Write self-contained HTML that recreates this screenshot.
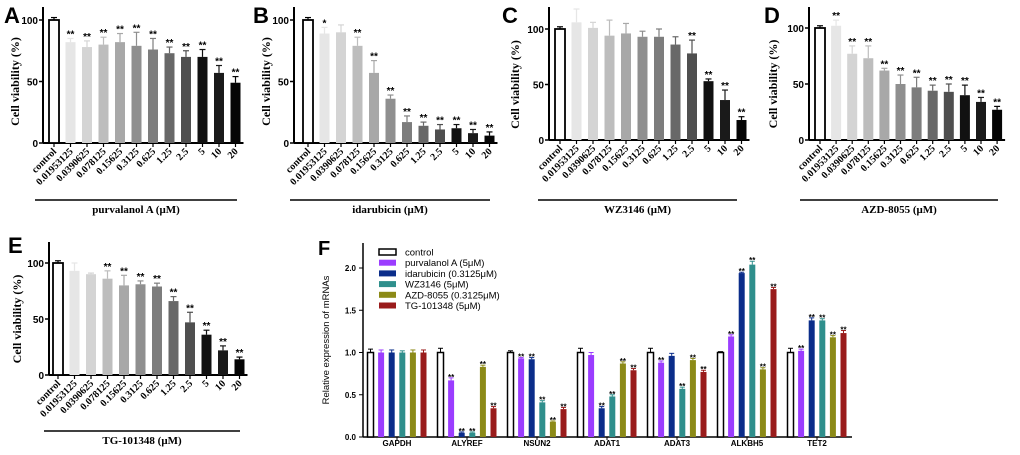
<!DOCTYPE html>
<html><head><meta charset="utf-8">
<style>
html,body{margin:0;padding:0;background:#fff;}
svg{display:block;}
</style></head>
<body>
<svg id="fig" width="1020" height="455" viewBox="0 0 1020 455" xmlns="http://www.w3.org/2000/svg"></svg>
<script>
const doses = ["control","0.01953125","0.0390625","0.078125","0.15625","0.3125","0.625","1.25","2.5","5","10","20"];
const valuesA = [100,82,78,80,82,79,76,73,70,70,57,49];
const errorsA = [2,3,5,6,7,11,9,5,5,6,6,5];
const starsA = ["","**","**","**","**","**","**","**","**","**","**","**"];
const valuesB = [100,89,90,79,57,36,17,14,11,12,8,6];
const errorsB = [2,5,6,7,10,3,5,3,4,3,3,3];
const starsB = ["","*","","**","**","**","**","**","**","**","**","**"];
const valuesC = [100,106,101,94,96,93,93,86,78,53,36,18];
const errorsC = [2,12,5,14,9,5,7,7,12,2,9,3];
const starsC = ["","","","","","","","","**","**","**","**"];
const valuesD = [100,102,77,73,62,50,47,44,43,40,34,27];
const errorsD = [2,5,7,11,2,8,9,5,7,9,4,3];
const starsD = ["","**","**","**","**","**","**","**","**","**","**","**"];
const valuesE = [100,93,90,86,80,81,79,66,47,36,22,14];
const errorsE = [2,7,1,7,9,3,3,4,9,4,4,2];
const starsE = ["","","","**","**","**","**","**","**","**","**","**"];
const yTicksViab = [0,50,100];

const genes = ["GAPDH","ALYREF","NSUN2","ADAT1","ADAT3","ALKBH5","TET2"];
const seriesNames = ["control","purvalanol A (5μM)","idarubicin (0.3125μM)","WZ3146 (5μM)","AZD-8055 (0.3125μM)","TG-101348 (5μM)"];
const controlVals = [1,1,1,1,1,1,1];
const purvVals = [1,0.67,0.93,0.97,0.88,1.19,1.02];
const idarVals = [1,0.05,0.92,0.34,0.96,1.94,1.38];
const wzVals = [1,0.05,0.41,0.48,0.57,2.04,1.38];
const azdVals = [1,0.83,0.18,0.87,0.91,0.80,1.18];
const tgVals = [1,0.34,0.33,0.79,0.77,1.75,1.23];
const controlErr = [0.04,0.05,0.02,0.05,0.05,0.01,0.05];
const purvErr = [0.03,0.03,0.01,0.03,0.02,0.02,0.02];
const idarErr = [0.03,0.01,0.02,0.02,0.03,0.01,0.03];
const wzErr = [0.02,0.01,0.02,0.02,0.02,0.04,0.02];
const azdErr = [0.03,0.02,0.01,0.02,0.02,0.02,0.02];
const tgErr = [0.03,0.02,0.02,0.02,0.02,0.02,0.03];
const fStars = [
 ["","","","","",""],
 ["","**","**","**","**","**"],
 ["","**","**","**","**","**"],
 ["","","**","**","**","**"],
 ["","**","","**","**","**"],
 ["","**","**","**","**","**"],
 ["","**","**","**","**","**"]];
const fTicks = [0,0.5,1.0,1.5,2.0];

const NS="http://www.w3.org/2000/svg";
const svg=document.getElementById('fig');
function mk(tag,attrs,parent){const e=document.createElementNS(NS,tag);for(const k in attrs)e.setAttribute(k,attrs[k]);(parent||svg).appendChild(e);return e;}
function txt(s,attrs,parent){const e=mk('text',attrs,parent);e.textContent=s;return e;}

const grays=["#ffffff","#e6e6e6","#d4d4d4","#bdbdbd","#a8a8a8","#8f8f8f","#7d7d7d","#686868","#4f4f4f","#111111","#1a1a1a","#050505"];

function viabPanel(cfg){
  const g=mk('g',{});
  
  
  const y=v=>cfg.y0-(v/100)*(cfg.y0-cfg.y100);
  const x=i=>cfg.x0+i*cfg.step;
  const L=txt(cfg.letter,{x:cfg.lx,y:cfg.ly,'font-family':'Liberation Sans, sans-serif','font-size':22,'font-weight':'bold'},g);
  
  
  const ya=mk('line',{x1:cfg.ax,x2:cfg.ax,y1:cfg.ytop,y2:cfg.y0,stroke:'#000','stroke-width':2},g);
  
  
  const xa=mk('line',{x1:cfg.ax,x2:x(11)+8,y1:cfg.y0,y2:cfg.y0,stroke:'#000','stroke-width':2},g);
  
  
  yTicksViab.forEach(t=>{
    mk('line',{x1:cfg.ax-4,x2:cfg.ax,y1:y(t),y2:y(t),stroke:'#000','stroke-width':1.5},g);
    const tl=txt(String(t),{x:cfg.ax-5,y:y(t)+4,'text-anchor':'end','font-family':'Liberation Sans, sans-serif','font-size':10,'font-weight':'bold'},g);
    
    
  });
  const yl=txt('Cell viability (%)',{transform:`translate(${cfg.ylx},${(cfg.y0+cfg.y100)/2}) rotate(-90)`,'text-anchor':'middle','font-family':'Liberation Serif, serif','font-size':12,'font-weight':'bold'},g);
  
  
  cfg.vals.forEach((v,i)=>{
    const cx=x(i),w=10;
    const b=mk('rect',{x:cx-w/2,y:y(v),width:w,height:cfg.y0-y(v),fill:grays[i],stroke:i==0?'#000':'none','stroke-width':i==0?1.8:0},g);
    
    
    const ec=i==0?'#000':grays[i];
    const et=y(v+cfg.errs[i]);
    mk('line',{x1:cx,x2:cx,y1:y(v),y2:et,stroke:ec,'stroke-width':1.2},g);
    mk('line',{x1:cx-3,x2:cx+3,y1:et,y2:et,stroke:ec,'stroke-width':1.2},g);
    if(cfg.stars[i]){
      const s=txt(cfg.stars[i],{x:cx,y:et-1,'text-anchor':'middle','font-family':'Liberation Sans, sans-serif','font-size':10,'font-weight':'bold'},g);
      
      
    }
    mk('line',{x1:cx,x2:cx,y1:cfg.y0,y2:cfg.y0+4,stroke:'#000','stroke-width':1.2},g);
    const tl=txt(doses[i],{transform:`translate(${cx+3},${cfg.y0+9}) rotate(-45)`,'text-anchor':'end','font-family':'Liberation Serif, serif','font-size':10,'font-weight':'bold'},g);
    
    
  });
  const gl=mk('line',{x1:cfg.gx1,x2:cfg.gx2,y1:cfg.gy,y2:cfg.gy,stroke:'#000','stroke-width':1.5},g);
  
  
  const t=txt(cfg.title,{x:(cfg.gx1+cfg.gx2)/2,y:cfg.gy+13,'text-anchor':'middle','font-family':'Liberation Serif, serif','font-size':11,'font-weight':'bold'},g);
  
  
}

viabPanel({letter:'A',lx:4,ly:23,ax:43,ylx:19,ytop:7,y0:143,y100:20,x0:54,step:16.5,vals:valuesA,errs:errorsA,stars:starsA,gx1:35,gx2:237,gy:200,title:'purvalanol A (μM)'});
viabPanel({letter:'B',lx:253,ly:23,ax:294,ylx:270,ytop:7,y0:143,y100:20,x0:308,step:16.5,vals:valuesB,errs:errorsB,stars:starsB,gx1:290,gx2:490,gy:200,title:'idarubicin (μM)'});
viabPanel({letter:'C',lx:502,ly:23,ax:549,ylx:519,ytop:7,y0:140,y100:29,x0:560,step:16.5,vals:valuesC,errs:errorsC,stars:starsC,gx1:538,gx2:737,gy:200,title:'WZ3146 (μM)'});
viabPanel({letter:'D',lx:764,ly:23,ax:809,ylx:777,ytop:7,y0:140,y100:28,x0:820,step:16.1,vals:valuesD,errs:errorsD,stars:starsD,gx1:800,gx2:998,gy:200,title:'AZD-8055 (μM)'});
viabPanel({letter:'E',lx:8,ly:253,ax:49,ylx:21,ytop:242,y0:375,y100:263,x0:58,step:16.5,vals:valuesE,errs:errorsE,stars:starsE,gx1:44,gx2:240,gy:431,title:'TG-101348 (μM)'});

// Panel F
(function(){
  const g=mk('g',{});
  
  
  const ax=363,y0=437,unit=84.5,gx0=397,gstep=70,bstep=10.6,bw=6;
  const y=v=>y0-v*unit;
  const series=[controlVals,purvVals,idarVals,wzVals,azdVals,tgVals];
  const errs=[controlErr,purvErr,idarErr,wzErr,azdErr,tgErr];
  const cols=['#ffffff','#9b3dff','#0b2d8a','#2f8f8c','#8c8a17','#9a1c1c'];
  const L=txt('F',{x:318,y:255,'font-family':'Liberation Sans, sans-serif','font-size':20,'font-weight':'bold'},g);
  
  
  const ya=mk('line',{x1:ax,x2:ax,y1:243,y2:y0,stroke:'#000','stroke-width':1.5},g);
  
  
  const xa=mk('line',{x1:ax,x2:852,y1:y0,y2:y0,stroke:'#000','stroke-width':1.5},g);
  
  
  fTicks.forEach(t=>{
    mk('line',{x1:ax-4,x2:ax,y1:y(t),y2:y(t),stroke:'#000','stroke-width':1},g);
    const tl=txt(t.toFixed(1),{x:ax-7,y:y(t)+3,'text-anchor':'end','font-family':'Liberation Sans, sans-serif','font-size':8,'font-weight':'bold'},g);
    
    
  });
  const yl=txt('Relative expression of mRNAs',{transform:`translate(329,340) rotate(-90)`,'text-anchor':'middle','font-family':'Liberation Sans, sans-serif','font-size':9.5},g);
  
  
  genes.forEach((gn,gi)=>{
    const gc=gx0+gi*gstep;
    mk('line',{x1:gc,x2:gc,y1:y0,y2:y0+3,stroke:'#000','stroke-width':1},g);
    const gl=txt(gn,{x:gc,y:446,'text-anchor':'middle','font-family':'Liberation Sans, sans-serif','font-size':8,'font-weight':'bold'},g);
    
    
    series.forEach((s,si)=>{
      const cx=gc+(si-2.5)*bstep,v=s[gi];
      const b=mk('rect',{x:cx-bw/2,y:y(v),width:bw,height:y0-y(v),fill:cols[si],stroke:si==0?'#000':'none','stroke-width':si==0?1.5:0},g);
      
      
      const et=y(v+errs[si][gi]),ec=si==0?'#000':cols[si];
      mk('line',{x1:cx,x2:cx,y1:y(v),y2:et,stroke:ec,'stroke-width':1},g);
      mk('line',{x1:cx-2.5,x2:cx+2.5,y1:et,y2:et,stroke:ec,'stroke-width':1},g);
      if(fStars[gi][si]){
        const st=txt(fStars[gi][si],{x:cx,y:et+2,'text-anchor':'middle','font-family':'Liberation Sans, sans-serif','font-size':8,'font-weight':'bold'},g);
        
        
      }
    });
  });
  seriesNames.forEach((n,i)=>{
    const ly=249+i*10.7;
    const r=mk('rect',{x:379,y:ly,width:17,height:6,fill:cols[i],stroke:i==0?'#000':'none','stroke-width':i==0?1.5:0},g);
    
    
    const t=txt(n,{x:405,y:ly+6.5,'font-family':'Liberation Sans, sans-serif','font-size':9.5},g);
    
    
  });
})();
</script>
</body></html>
